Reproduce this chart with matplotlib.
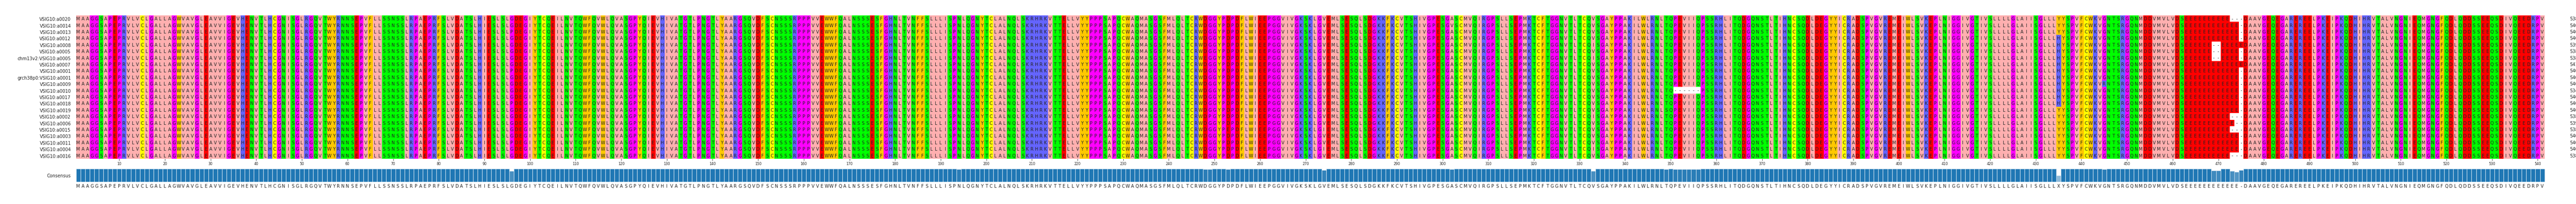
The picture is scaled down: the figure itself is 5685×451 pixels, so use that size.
import matplotlib
matplotlib.use("Agg")
import matplotlib.pyplot as plt
import numpy as np
from matplotlib.colors import to_rgb

names = ["VSIG10:a0020", "VSIG10:a0014", "VSIG10:a0013", "VSIG10:a0012", "VSIG10:a0008",
         "VSIG10:a0005", "chm13v2:VSIG10:a0005", "VSIG10:a0007", "VSIG10:a0001",
         "grch38p0:VSIG10:a0001", "VSIG10:a0009", "VSIG10:a0010", "VSIG10:a0017",
         "VSIG10:a0018", "VSIG10:a0019", "VSIG10:a0002", "VSIG10:a0006", "VSIG10:a0015",
         "VSIG10:a0003", "VSIG10:a0011", "VSIG10:a0004", "VSIG10:a0016"]

base_segments = [
    "MAAGGSAPEPRVLVCLGALLAG",
    "WVAVGLEAVVIGEVHENVTLHCGNISGLRGQVTWYRNNSEPVFLLSSNSSLRPA",
    "EPRFSLVDATSLHIESLSLGDEGIYTCQEILNVTQWFQVWLQVASGPYQIEVHI",
    "VATGTLPNGTLYAARGSQVDFSCNSSSRPPPVVEWWFQALNSSSESFGHNLTVN",
    "FFSLLLISPNLQGNYTCLALNQLSKRHRKVTTELLVYYPPPSAPQCWAQMASGS",
    "FMLQLTCRWDGGYPDPDFLWIEEPGGVIVGKSKLGVEMLSESQLSDGKKFKCVTS",
    "HIVGPESGASCMVQIRGPSLLSEPMKTCFTGGNVTLTCQVSGAYPPAKILWLRN",
    "LTQPEVIIQPSSRHLITQDGQNSTLTIHNCSQDLDEGYYICRADSPVGVREMEI",
    "WLSVKEPLNIGGIVGTIVSLLLLGLAIISGLLLYYSPVFCWKVGNTSRGQNMDD",
    "VMVLVDS" + "E" * 13 + "DAAVGEQEGAREREELPKEIPKQDHIHRVTALVN",
    "GNIEQMGNGFQDLQDDSSEEQSDIVQEEDRPV",
]
base = "".join(base_segments)

# per-row edits: (column 1-based, residue) ; '-' is a gap
h_rows = list(range(3, 14))          # rows with H at column 435
gap_cols = {0: [473, 474, 475], 1: [475], 2: [475], 3: [475], 4: [469, 470],
            5: [469, 470, 475], 6: [469, 470, 475], 7: [], 8: [475], 9: [475],
            10: [475], 11: [351, 352, 353, 354, 355, 356, 475], 12: [475], 13: [475],
            14: [475], 15: [473, 474, 475], 16: [474, 475], 17: [473, 474, 475],
            18: [475], 19: [475], 20: [475], 21: [473, 474, 475]}
subs = {10: [(445, "R")], 2: [(96, "P")], 8: [(96, "P")], 13: [(96, "P")], 19: [(96, "P")],
        4: [(194, "Q"), (333, "I")], 6: [(248, "E"), (333, "I")], 15: [(249, "P"), (333, "I")],
        17: [(253, "E"), (274, "I")], 20: [(274, "I"), (333, "I")], 1: [(302, "V")],
        14: [(349, "S")]}

rows = []
for i in range(len(names)):
    s = list(base)
    if i in h_rows:
        s[434] = "H"
    for c in gap_cols[i]:
        s[c - 1] = "-"
    for c, r in subs.get(i, []):
        s[c - 1] = r
    rows.append("".join(s))

lengths = [sum(ch != "-" for ch in r) for r in rows]
ncol = len(base)
nrow = len(rows)

# consensus + conservation
cons = []
frac = []
for j in range(ncol):
    col = [r[j] for r in rows]
    vals, counts = np.unique(col, return_counts=True)
    order = np.argsort(-counts)
    top = counts[order[0]]
    if len(order) > 1 and counts[order[1]] == top:
        cons.append("X")
    else:
        cons.append(vals[order[0]])
    frac.append(top / nrow)

colmap = {}
for a in "ILVAM": colmap[a] = "#ffafaf"
for a in "FWY": colmap[a] = "#ffc800"
for a in "KRH": colmap[a] = "#6464ff"
for a in "DE": colmap[a] = "#ff0000"
for a in "STNQ": colmap[a] = "#00ff00"
for a in "PG": colmap[a] = "#ff00ff"
colmap["C"] = "#ffff00"
colmap["-"] = "#ffffff"

img = np.array([[to_rgb(colmap.get(ch, "#ffffff")) for ch in r] for r in rows])

W, H = 5685, 452
fig = plt.figure(figsize=(W / 100, H / 100), dpi=100)
left = 167.7 / W
width = (5615.6 - 167.7) / W
ax = fig.add_axes([left, 100.3 / H, width, 316.7 / H])
ax.imshow(img, aspect="auto", interpolation="nearest",
          extent=(0.5, ncol + 0.5, nrow - 0.5, -0.5))
ax.set_xlim(0.5, ncol + 0.5)
ax.set_ylim(nrow - 0.5, -0.5)
for sp in ax.spines.values():
    sp.set_visible(False)
ax.set_yticks(range(nrow))
ax.set_yticklabels(names, fontsize=7, color="#222222")
ax.tick_params(axis="y", length=0, pad=8)
ax.set_xticks(range(10, ncol + 1, 10))
ax.tick_params(axis="x", labelsize=5.5, length=3, width=0.6, pad=1.5, colors="#222222")
for i, r in enumerate(rows):
    for j, ch in enumerate(r):
        ax.text(j + 1, i, ch, ha="center", va="center", fontsize=7, color="#222222")
    ax.text(ncol + 6, i, str(lengths[i]), ha="left", va="center", fontsize=7,
            color="#222222", clip_on=False)

cax = fig.add_axes([left, 49 / H, width, 29 / H])
x = np.arange(1, ncol + 1)
for j in range(ncol):
    cax.bar(x[j], frac[j], width=1.0, color="#1f77b4", alpha=max(frac[j], 0.1),
            edgecolor="#d6e6f2", linewidth=0.8)
cax.set_xlim(0.5, ncol + 0.5)
cax.set_ylim(0, 1)
for sp in cax.spines.values():
    sp.set_visible(False)
cax.set_yticks([0.5])
cax.set_yticklabels(["Consensus"], fontsize=7, color="#222222")
cax.tick_params(axis="y", length=0, pad=8)
cax.set_xticks(x)
cax.set_xticklabels(cons, fontsize=7, color="#222222")
cax.tick_params(axis="x", length=0, pad=3)

fig.savefig("out.png", dpi=100)
